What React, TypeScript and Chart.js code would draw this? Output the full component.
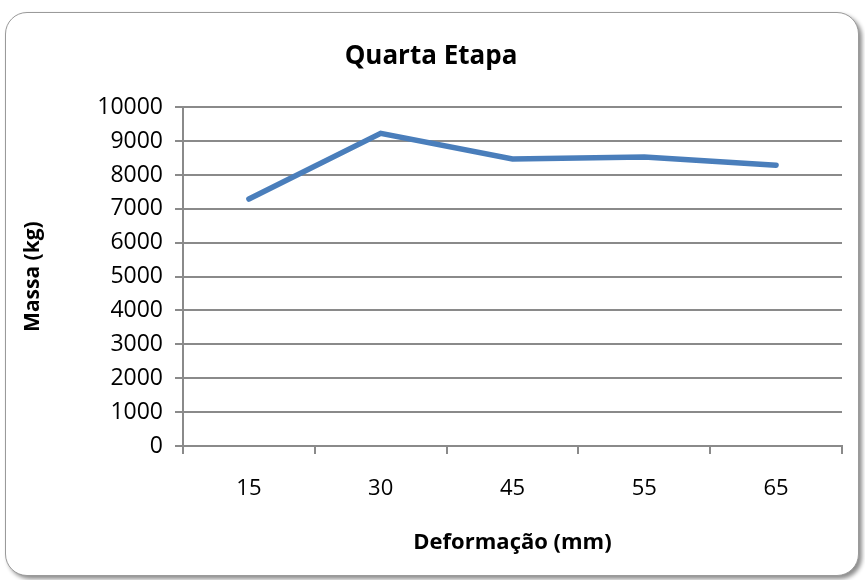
import React, { useEffect, useRef } from "react";
import { Chart, registerables } from "chart.js";

Chart.register(...registerables);

const categories = ["15", "30", "45", "55", "65"];
const massValues = [7290, 9230, 8470, 8530, 8290];
const chartTitle = "Quarta Etapa";
const xTitle = "Deformação (mm)";
const yTitle = "Massa (kg)";

const FONT = "'Open Sans', sans-serif";
const GRID = "#8a8a8a";

export default function App() {
  const ref = useRef<HTMLCanvasElement | null>(null);
  useEffect(() => {
    if (!ref.current) return;
    const chart = new Chart(ref.current, {
      type: "line",
      data: {
        labels: categories,
        datasets: [
          {
            data: massValues,
            borderColor: "#4a7ebb",
            borderWidth: 5.5,
            borderCapStyle: "round",
            borderJoinStyle: "miter",
            pointRadius: 0,
            tension: 0,
            fill: false,
          },
        ],
      },
      options: {
        responsive: false,
        animation: false,
        layout: { padding: { left: 20, right: 23, top: 18, bottom: 18 } },
        plugins: {
          legend: { display: false },
          tooltip: { enabled: false },
          title: {
            display: true,
            text: chartTitle,
            color: "#000",
            font: { family: FONT, size: 26, weight: "bold" },
            padding: { top: 23, bottom: 35 },
          },
        },
        scales: {
          x: {
            offset: true,
            grid: {
              offset: true,
              drawOnChartArea: false,
              drawTicks: true,
              tickLength: 8,
              color: GRID,
              lineWidth: 2,
            },
            border: { color: GRID, width: 2 },
            ticks: {
              color: "#000",
              font: { family: FONT, size: 22 },
              padding: 22,
              maxRotation: 0,
            },
            title: {
              display: true,
              text: xTitle,
              color: "#000",
              font: { family: FONT, size: 22, weight: "bold" },
              padding: { top: 10, bottom: 6 },
            },
            afterFit: (s: any) => {
              s.height = 116;
            },
          },
          y: {
            min: 0,
            max: 10000,
            ticks: {
              stepSize: 1000,
              color: "#000",
              font: { family: FONT, size: 23 },
              padding: 12,
              callback: (v: any) => String(v),
            },
            grid: {
              color: GRID,
              lineWidth: 2,
              tickLength: 8,
            },
            border: { color: GRID, width: 2 },
            title: {
              display: true,
              text: yTitle,
              color: "#000",
              font: { family: FONT, size: 21, weight: "bold" },
              padding: { top: 0, bottom: 0 },
            },
            afterFit: (s: any) => {
              s.width = 163;
            },
          },
        },
      },
    });
    return () => chart.destroy();
  }, []);

  return (
    <div style={{ position: "absolute", left: 0, top: 0, width: 865, height: 580, background: "#fff", overflow: "hidden" }}>
      <div
        style={{
          position: "absolute",
          left: 5,
          top: 12,
          width: 852,
          height: 562,
          border: "1px solid #9a9a9a",
          borderRadius: 22,
          boxShadow: "3px 3px 4px rgba(0,0,0,0.45)",
          background: "#fff",
        }}
      />
      <canvas ref={ref} width={865} height={580} style={{ position: "absolute", left: 0, top: 0 }} />
    </div>
  );
}
